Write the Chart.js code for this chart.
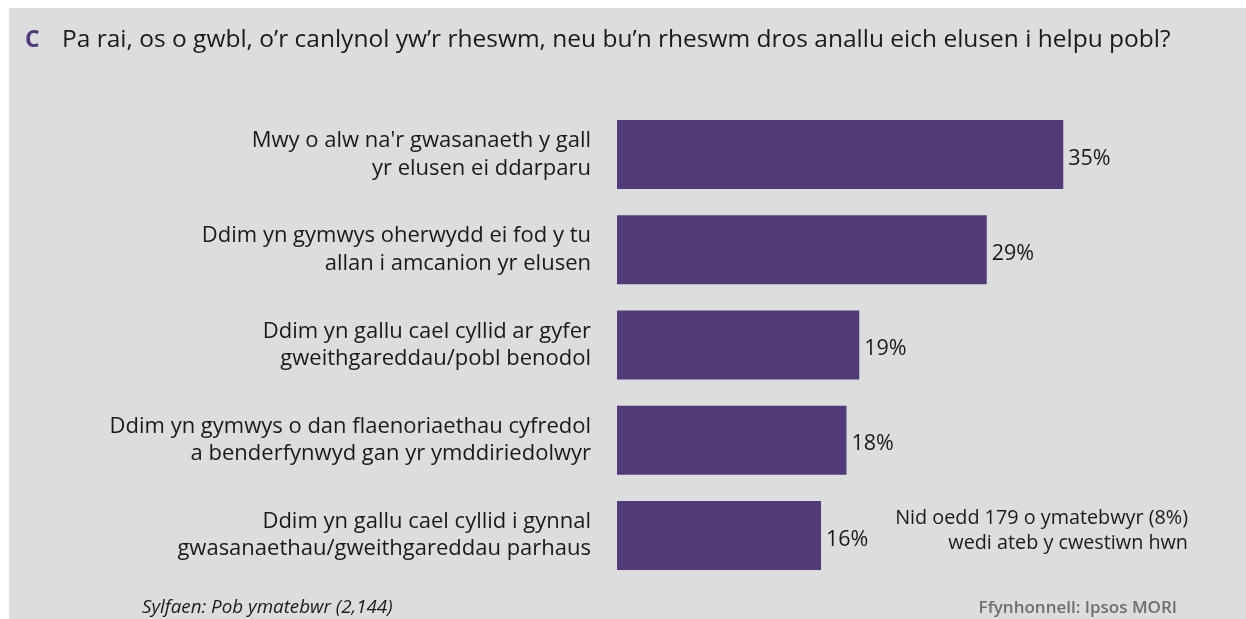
<!DOCTYPE html>
<html>
<head>
<meta charset="utf-8">
<script src="https://cdn.jsdelivr.net/npm/chart.js@4"></script>
<style>
  html, body { margin: 0; padding: 0; background: #ffffff; }
  #wrap { position: relative; width: 1246px; height: 619px; }
</style>
</head>
<body>
<div id="wrap"><canvas id="reasonsChart" width="1246" height="619"></canvas></div>
<script>
const reasons = [
    ["Mwy o alw na'r gwasanaeth y gall", "yr elusen ei ddarparu"],
    ["Ddim yn gymwys oherwydd ei fod y tu", "allan i amcanion yr elusen"],
    ["Ddim yn gallu cael cyllid ar gyfer", "gweithgareddau/pobl benodol"],
    ["Ddim yn gymwys o dan flaenoriaethau cyfredol", "a benderfynwyd gan yr ymddiriedolwyr"],
    ["Ddim yn gallu cael cyllid i gynnal", "gwasanaethau/gweithgareddau parhaus"]
];
const percentages = [35, 29, 19, 18, 16];

const questionLetter = "C";
const questionText = "Pa rai, os o gwbl, o’r canlynol yw’r rheswm, neu bu’n rheswm dros anallu eich elusen i helpu pobl?";
const noAnswerNote = ["Nid oedd 179 o ymatebwyr (8%)", "wedi ateb y cwestiwn hwn"];
const baseNote = "Sylfaen: Pob ymatebwr (2,144)";
const sourceNote = "Ffynhonnell: Ipsos MORI";

const FONT = "'Open Sans', 'Noto Sans', sans-serif";
const PURPLE = '#523a78';
const PANEL = '#dcdddf';

// grey panel behind everything, plus header / footer text
const panelPlugin = {
    id: 'panel',
    beforeDraw(chart) {
        const ctx = chart.ctx;
        ctx.save();
        ctx.fillStyle = '#ffffff';
        ctx.fillRect(0, 0, chart.width, chart.height);
        ctx.fillStyle = PANEL;
        ctx.fillRect(9, 8, chart.width - 9, chart.height - 8);

        ctx.textBaseline = 'alphabetic';
        ctx.fillStyle = PURPLE;
        ctx.font = `bold 23px ${FONT}`;
        ctx.fillText(questionLetter, 25, 47);
        ctx.fillStyle = '#1a1a1a';
        ctx.font = `24.5px ${FONT}`;
        ctx.fillText(questionText, 62, 47);

        ctx.font = `italic 18.8px ${FONT}`;
        ctx.fillStyle = '#1a1a1a';
        ctx.fillText(baseNote, 142, 613);

        ctx.font = `600 17px ${FONT}`;
        ctx.fillStyle = '#6d6e71';
        ctx.textAlign = 'right';
        ctx.fillText(sourceNote, 1177, 613);
        ctx.restore();
    }
};

// percentage next to each bar, and the note beside the last one
const valueLabels = {
    id: 'valueLabels',
    afterDatasetsDraw(chart) {
        const ctx = chart.ctx;
        const meta = chart.getDatasetMeta(0);
        ctx.save();
        ctx.font = `21.5px ${FONT}`;
        ctx.fillStyle = '#1a1a1a';
        ctx.textBaseline = 'middle';
        meta.data.forEach((bar, i) => {
            ctx.fillText(percentages[i] + '%', bar.x + 5, bar.y + 4);
        });
        ctx.font = `19.8px ${FONT}`;
        ctx.textAlign = 'right';
        const last = meta.data[meta.data.length - 1];
        ctx.fillText(noAnswerNote[0], 1188, last.y - 17);
        ctx.fillText(noAnswerNote[1], 1188, last.y + 8);
        ctx.restore();
    }
};

new Chart(document.getElementById('reasonsChart'), {
    type: 'bar',
    data: {
        labels: reasons,
        datasets: [{
            data: percentages,
            backgroundColor: PURPLE,
            barPercentage: 0.725,
            categoryPercentage: 1
        }]
    },
    options: {
        indexAxis: 'y',
        responsive: false,
        animation: false,
        layout: { padding: { top: 107, bottom: 36, left: 0, right: 119 } },
        plugins: {
            legend: { display: false },
            tooltip: { enabled: false }
        },
        scales: {
            x: {
                display: false,
                min: 0,
                max: 40
            },
            y: {
                grid: { display: false },
                border: { display: false },
                afterFit(scale) {
                    scale.width = 617;
                    // labels sit inside the category bands, no extra room needed
                    scale.paddingTop = 0;
                    scale.paddingBottom = 0;
                },
                ticks: {
                    padding: 18,
                    color: '#1a1a1a',
                    font: { family: FONT, size: 22, lineHeight: 1.25 }
                }
            }
        }
    },
    plugins: [panelPlugin, valueLabels]
});
</script>
</body>
</html>
